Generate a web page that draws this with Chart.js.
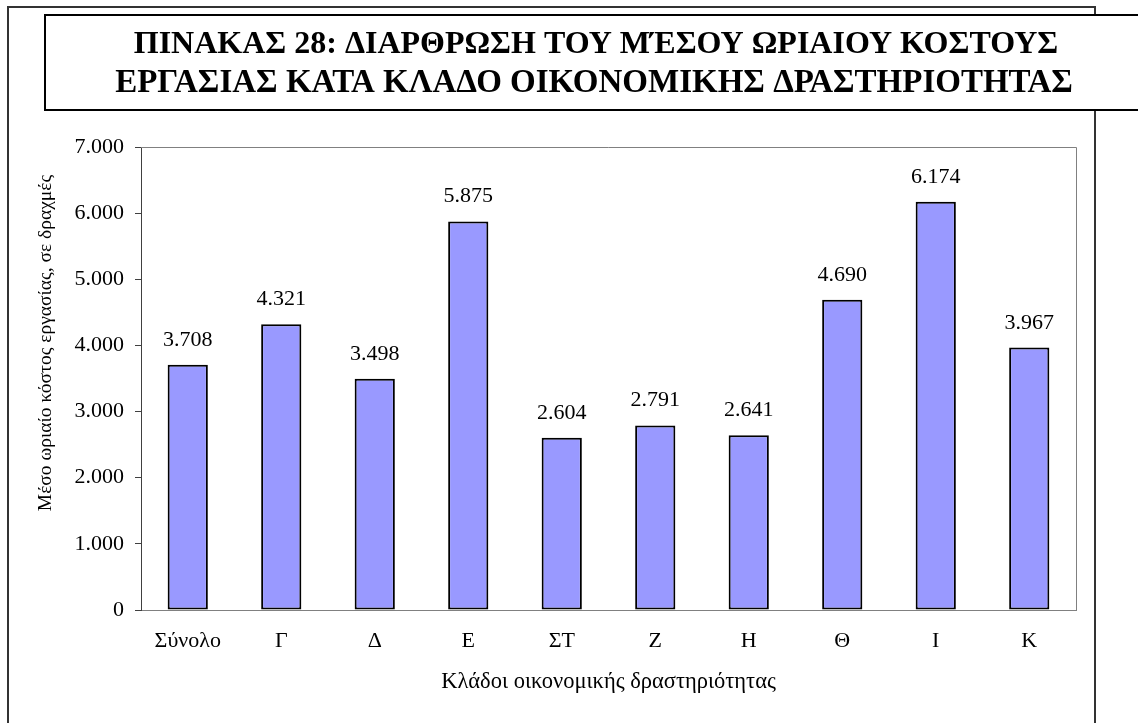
<!DOCTYPE html>
<html>
<head>
<meta charset="utf-8">
<script src="https://cdn.jsdelivr.net/npm/chart.js@4/dist/chart.umd.min.js"></script>
<style>
  body { margin: 0; background: #fff; }
  canvas { display: block; }
</style>
</head>
<body>
<canvas id="costChart" width="1138" height="723"></canvas>
<script>
// data
var sectorLabels = ["Σύνολο", "Γ", "Δ", "Ε", "ΣΤ", "Ζ", "Η", "Θ", "Ι", "Κ"];
var costValues = [3708, 4321, 3498, 5875, 2604, 2791, 2641, 4690, 6174, 3967];
var titleLines = [
  "ΠΙΝΑΚΑΣ 28: ΔΙΑΡΘΡΩΣΗ ΤΟΥ ΜΈΣΟΥ ΩΡΙΑΙΟΥ ΚΟΣΤΟΥΣ",
  "ΕΡΓΑΣΙΑΣ ΚΑΤΑ ΚΛΑΔΟ ΟΙΚΟΝΟΜΙΚΗΣ ΔΡΑΣΤΗΡΙΟΤΗΤΑΣ"
];
var yTitle = "Μέσο ωριαίο κόστος εργασίας, σε δραχμές";
var xTitle = "Κλάδοι οικονομικής δραστηριότητας";

var serif = "'Liberation Serif', 'Times New Roman', serif";

// 3708 -> 3.708
function fmt(v) {
  return String(v).replace(/\B(?=(\d{3})+(?!\d))/g, ".");
}

// frames, title, plot border, value labels
var decor = {
  id: "decor",
  beforeDraw: function(chart) {
    var ctx = chart.ctx;
    ctx.save();
    ctx.fillStyle = "#fff";
    ctx.fillRect(0, 0, chart.width, chart.height);
    // outer frame
    ctx.strokeStyle = "#333";
    ctx.lineWidth = 2;
    ctx.beginPath();
    ctx.moveTo(8, 730);
    ctx.lineTo(8, 7);
    ctx.lineTo(1095, 7);
    ctx.lineTo(1095, 730);
    ctx.stroke();
    // title box
    ctx.fillStyle = "#fff";
    ctx.fillRect(45, 15, 1100, 95);
    ctx.strokeStyle = "#000";
    ctx.strokeRect(45, 15, 1100, 95);
    ctx.fillStyle = "#000";
    ctx.textAlign = "center";
    ctx.textBaseline = "middle";
    ctx.font = "bold 32px " + serif;
    ctx.fillText(titleLines[0], 596, 45);
    ctx.font = "bold 33px " + serif;
    ctx.fillText(titleLines[1], 594, 83);
    ctx.restore();
  },
  afterDraw: function(chart) {
    var ctx = chart.ctx;
    var a = chart.chartArea;
    ctx.save();
    ctx.strokeStyle = "#808080";
    ctx.lineWidth = 1;
    ctx.beginPath();
    ctx.moveTo(a.left, a.top + 0.5);
    ctx.lineTo(a.right + 0.5, a.top + 0.5);
    ctx.lineTo(a.right + 0.5, a.bottom);
    ctx.stroke();

    // value labels
    ctx.fillStyle = "#000";
    ctx.font = "22px " + serif;
    ctx.textAlign = "center";
    ctx.textBaseline = "alphabetic";
    chart.getDatasetMeta(0).data.forEach(function(bar, i) {
      ctx.fillText(fmt(costValues[i]), bar.x, bar.y - 19);
    });

    // y axis title
    ctx.font = "19.5px " + serif;
    ctx.translate(46, 343);
    ctx.rotate(-Math.PI / 2);
    ctx.textBaseline = "middle";
    ctx.fillText(yTitle, 0, 0);
    ctx.restore();
  }
};

new Chart("costChart", {
  type: "bar",
  data: {
    labels: sectorLabels,
    datasets: [{
      data: costValues,
      backgroundColor: "#9999FF",
      borderColor: "#000",
      borderWidth: 2,
      borderSkipped: false,
      barPercentage: 0.43,
      categoryPercentage: 1
    }]
  },
  options: {
    responsive: false,
    animation: false,
    layout: {
      padding: { left: 56, top: 147, right: 62, bottom: 13 }
    },
    plugins: {
      legend: { display: false },
      tooltip: { enabled: false }
    },
    scales: {
      x: {
        afterFit: function(s) { s.height = 100; },
        grid: { display: false, drawTicks: false },
        border: { display: true, color: "#808080", width: 1 },
        ticks: {
          color: "#000",
          padding: 18,
          font: { family: serif, size: 22 }
        },
        title: {
          display: true,
          text: xTitle,
          color: "#000",
          padding: { top: 0, bottom: 14 },
          font: { family: serif, size: 22.5 }
        }
      },
      y: {
        min: 0,
        max: 7000,
        afterFit: function(s) { s.width = 85; },
        grid: {
          drawOnChartArea: false,
          drawTicks: true,
          tickLength: 6,
          color: "#404040"
        },
        border: { display: true, color: "#404040", width: 1 },
        ticks: {
          stepSize: 1000,
          color: "#000",
          padding: 11,
          font: { family: serif, size: 22 },
          callback: function(v) { return fmt(v); }
        }
      }
    }
  },
  plugins: [decor]
});
</script>
</body>
</html>
